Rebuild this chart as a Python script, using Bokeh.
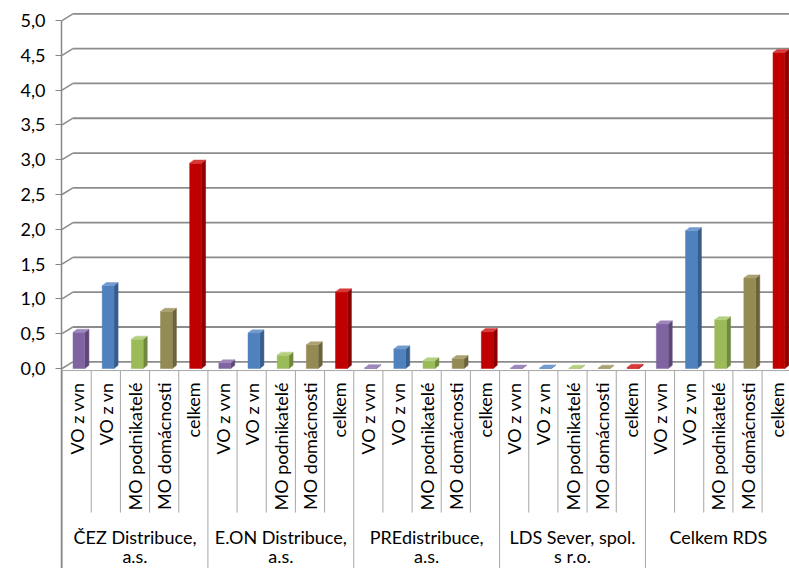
import math
from bokeh.plotting import figure
from bokeh.models import Range1d, FixedTicker, CustomJSTickFormatter
from bokeh.core.properties import value
from bokeh.embed import file_html
from bokeh.resources import INLINE

# ---- data ----
groups_line1 = ["ČEZ Distribuce,", "E.ON Distribuce,", "PREdistribuce,", "LDS Sever, spol.", "Celkem RDS"]
groups_line2 = ["a.s.", "a.s.", "a.s.", "s r.o.", ""]
categories = ["VO z vvn", "VO z vn", "MO podnikatelé", "MO domácnosti", "celkem"]
cez = [0.52, 1.19, 0.42, 0.82, 2.95]
eon = [0.08, 0.51, 0.19, 0.34, 1.10]
pre = [0.01, 0.28, 0.11, 0.14, 0.53]
lds = [0.004, 0.006, 0.003, 0.003, 0.016]
rds = [0.64, 1.98, 0.70, 1.30, 4.54]
y_ticks = [0.0, 0.5, 1.0, 1.5, 2.0, 2.5, 3.0, 3.5, 4.0, 4.5, 5.0]

series = [cez, eon, pre, lds, rds]
front_colors = ["#8064A2", "#4F81BD", "#9BBB59", "#948A54", "#C00000"]
side_colors = ["#5C4776", "#385D8A", "#71893F", "#6B633B", "#8B0000"]
top_colors = ["#9D86BB", "#729BCF", "#B5CF80", "#ABA173", "#D83A3A"]

FONT = "Lato"
FS = "18px"
n_cat = len(categories)
n_grp = len(series)
N = n_cat * n_grp

p = figure(width=789, height=568, output_backend="svg", toolbar_location=None,
           title=None, x_axis_location=None, y_axis_location="left",
           min_border_left=61, min_border_right=0, min_border_top=10, min_border_bottom=0,
           x_range=Range1d(-0.02, 24.94), y_range=Range1d(-2.874, 5.144))
p.outline_line_color = None
p.xgrid.visible = False
p.ygrid.visible = False
p.background_fill_color = "white"
p.border_fill_color = "white"

ax = p.yaxis[0]
ax.ticker = FixedTicker(ticks=y_ticks)
ax.formatter = CustomJSTickFormatter(code="return tick.toFixed(1).replace('.', ',');")
ax.bounds = (-2.874, 5.0)
ax.axis_line_color = "#868686"
ax.axis_line_width = 1.5
ax.major_tick_line_color = "#868686"
ax.major_tick_out = 6
ax.major_tick_in = 0
ax.minor_tick_line_color = None
ax.major_label_standoff = 10
ax.major_label_text_font = FONT
ax.major_label_text_font_size = FS
ax.major_label_text_color = "#000000"

# 3D back wall gridlines
wall_dx = 0.37
wall_dy = 0.096
p.segment(x0=[0] * len(y_ticks), y0=y_ticks, x1=[wall_dx] * len(y_ticks),
          y1=[t + wall_dy for t in y_ticks], line_color="#8C8C8C", line_width=1.5)
p.segment(x0=[wall_dx] * len(y_ticks), y0=[t + wall_dy for t in y_ticks],
          x1=[26] * len(y_ticks), y1=[t + wall_dy for t in y_ticks],
          line_color="#8C8C8C", line_width=1.8)

# bars
dx = 0.14
dy = 0.045
for ci in range(n_cat):
    xs_c, v_c = [], []
    for gi in range(n_grp):
        c = gi * n_cat + ci + 0.5
        xs_c.append(c)
        v_c.append(series[gi][ci])
    x0 = [c - 0.125 for c in xs_c]
    x1 = [c + 0.28 for c in xs_c]
    side_xs = [[b, b + dx, b + dx, b] for b in x1]
    side_ys = [[0, dy, v + dy, v] for v in v_c]
    top_xs = [[a, b, b + dx, a + dx] for a, b in zip(x0, x1)]
    top_ys = [[v, v, v + dy, v + dy] for v in v_c]
    p.patches(side_xs, side_ys, fill_color=side_colors[ci], line_color=side_colors[ci], line_width=0.5)
    p.quad(left=x0, right=x1, bottom=[0] * len(v_c), top=v_c,
           fill_color=front_colors[ci], line_color=front_colors[ci], line_width=0.5)
    p.patches(top_xs, top_ys, fill_color=top_colors[ci], line_color=top_colors[ci], line_width=0.5)

# category area: top line and separators
sep_top = -0.03
p.segment(x0=[0], y0=[sep_top], x1=[26], y1=[sep_top], line_color="#A6A6A6", line_width=1)
inner = [i for i in range(N + 1) if i % n_cat != 0]
outer = [i for i in range(N + 1) if i % n_cat == 0]
p.segment(x0=inner, y0=[sep_top] * len(inner), x1=inner, y1=[-2.07] * len(inner),
          line_color="#A6A6A6", line_width=1)
p.segment(x0=outer, y0=[sep_top] * len(outer), x1=outer, y1=[-2.9] * len(outer),
          line_color="#A6A6A6", line_width=1)

# category labels (vertical)
lab_x = [i + 0.5 for i in range(N)]
lab_t = categories * n_grp
p.text(x=lab_x, y=[-0.2] * N, text=lab_t, angle=math.pi / 2,
       text_align="right", text_baseline="middle",
       text_font=value(FONT), text_font_size=FS, text_color="#000000")

# group labels
gx = [gi * n_cat + n_cat / 2 for gi in range(n_grp)]
p.text(x=gx, y=[-2.42] * n_grp, text=groups_line1, text_align="center", text_baseline="middle",
       text_font=value(FONT), text_font_size=FS, text_color="#000000")
p.text(x=gx, y=[-2.70] * n_grp, text=groups_line2, text_align="center", text_baseline="middle",
       text_font=value(FONT), text_font_size=FS, text_color="#000000")

open("out.html", "w").write(file_html(p, INLINE))
